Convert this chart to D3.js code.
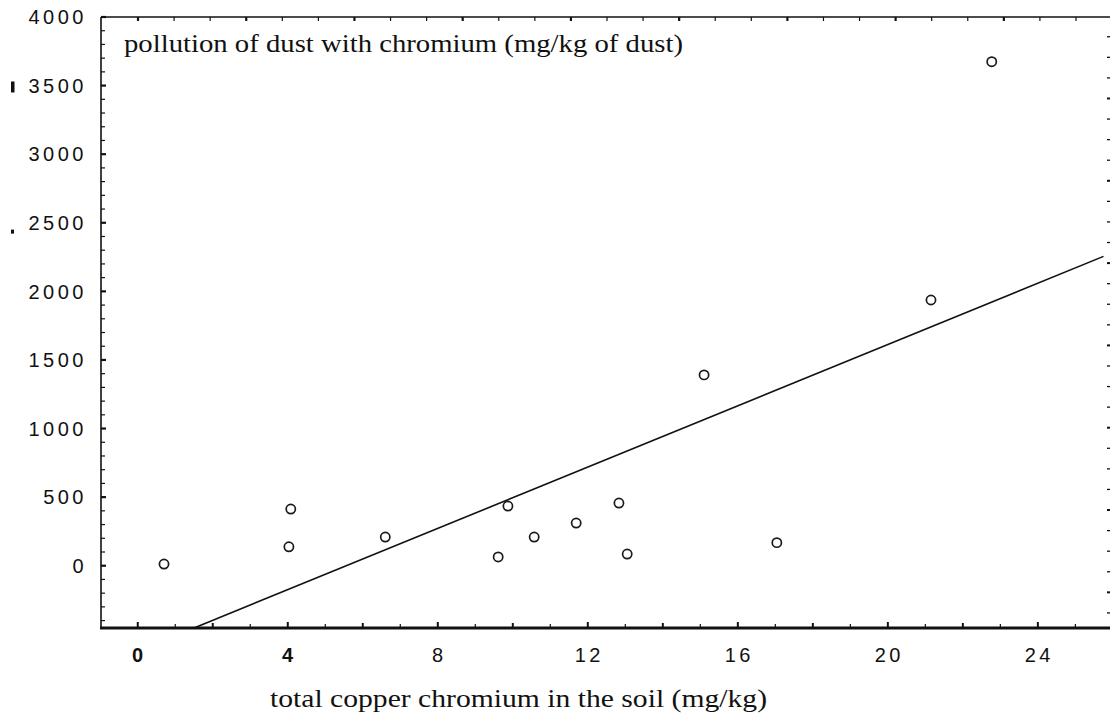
<!DOCTYPE html>
<html lang="en">
<head>
  <meta charset="UTF-8" />
  <title>Chromium in dust vs soil</title>
  <script src="https://d3js.org/d3.v7.min.js"></script>
  <style>
    body {
      margin: 0;
      padding: 0;
      background: #fff;
    }
    svg {
      display: block;
    }
    .tick-label {
      font-family: "Liberation Sans", Arial, sans-serif;
      font-size: 20px;
      letter-spacing: 3.5px;
      fill: #111;
    }
    .serif-label {
      font-family: "Liberation Serif", "Times New Roman", serif;
      fill: #111;
    }
  </style>
</head>
<body>
  <svg id="chart" width="1110" height="725"></svg>

  <script>
    // soil copper/chromium (mg/kg) vs dust chromium (mg/kg of dust)
    const soilX = [0.7, 4.03, 4.08, 6.6, 9.61, 9.87, 10.57, 11.69, 12.83, 13.05, 15.1, 17.04, 21.15, 22.77];
    const dustY = [12, 138, 413, 209, 64, 435, 209, 311, 457, 85, 1391, 168, 1937, 3674];

    // fitted line, two ends
    const fitX = [1.5, 25.75];
    const fitY = [-454, 2255];

    const xTickLabels = [0, 4, 8, 12, 16, 20, 24];
    const yTickLabels = [0, 500, 1000, 1500, 2000, 2500, 3000, 3500, 4000];

    const svg = d3.select("#chart");

    // plot frame in pixels
    const frameL = 101, frameR = 1108, frameT = 17, frameB = 628;

    const x = d3.scaleLinear().domain([-0.98, 25.87]).range([frameL, frameR]);
    const y = d3.scaleLinear().domain([-454, 4000]).range([frameB, frameT]);
    // the top border has its own evenly spaced ticks
    const xTop = d3.scaleLinear().domain([0, 26]).range([138, 1076]);

    const ink = "#111";

    // ---- frame ----
    svg.append("line")
      .attr("x1", frameL).attr("x2", 1110)
      .attr("y1", frameT).attr("y2", frameT)
      .attr("stroke", ink).attr("stroke-width", 1.6);

    svg.append("line")
      .attr("x1", frameL).attr("x2", frameL)
      .attr("y1", frameT).attr("y2", frameB)
      .attr("stroke", ink).attr("stroke-width", 1.6);

    svg.append("line")
      .attr("x1", frameL - 1).attr("x2", 1110)
      .attr("y1", frameB).attr("y2", frameB)
      .attr("stroke", ink).attr("stroke-width", 3);

    // ---- left axis ticks (every 100, bigger at 500) ----
    const yMinor = d3.range(-400, 4001, 100);
    svg.append("g").selectAll("line")
      .data(yMinor)
      .enter().append("line")
      .attr("x1", frameL)
      .attr("x2", d => d % 500 === 0 ? frameL + 5 : frameL + 4)
      .attr("y1", d => y(d)).attr("y2", d => y(d))
      .attr("stroke", ink)
      .attr("stroke-width", d => d % 500 === 0 ? 2.2 : 1.2);

    svg.append("g").selectAll("text")
      .data(yTickLabels)
      .enter().append("text")
      .attr("class", "tick-label")
      .attr("x", 87)
      .attr("y", d => y(d))
      .attr("dy", "0.36em")
      .attr("text-anchor", "end")
      .text(d => d);

    // ---- right side: dotted axis ----
    const rightTicks = d3.range(3856, -454, -150);
    svg.append("g").selectAll("line")
      .data(rightTicks)
      .enter().append("line")
      .attr("x1", frameR - 1).attr("x2", frameR + 2)
      .attr("y1", d => y(d)).attr("y2", d => y(d))
      .attr("stroke", ink)
      .attr("stroke-width", (d, i) => i % 4 === 3 ? 2 : 1.3);

    // ---- bottom axis ticks (every 1, bigger at even numbers) ----
    const xMinor = d3.range(0, 26, 1);
    svg.append("g").selectAll("line")
      .data(xMinor)
      .enter().append("line")
      .attr("x1", d => x(d)).attr("x2", d => x(d))
      .attr("y1", frameB)
      .attr("y2", d => d % 4 === 0 ? frameB - 6 : (d % 2 === 0 ? frameB - 5 : frameB - 4))
      .attr("stroke", ink)
      .attr("stroke-width", d => d % 2 === 0 ? 2 : 1.2);

    svg.append("g").selectAll("text")
      .data(xTickLabels)
      .enter().append("text")
      .attr("class", "tick-label")
      .attr("x", d => x(d) + 1.5)
      .attr("y", 662)
      .attr("text-anchor", "middle")
      .style("font-weight", d => d < 8 ? "bold" : "normal")
      .text(d => d);

    // ---- top border ticks ----
    svg.append("g").selectAll("line")
      .data(d3.range(0, 27, 1))
      .enter().append("line")
      .attr("x1", d => xTop(d)).attr("x2", d => xTop(d))
      .attr("y1", frameT).attr("y2", frameT + 4)
      .attr("stroke", ink)
      .attr("stroke-width", d => d % 3 === 0 ? 2.2 : 1.2);

    // ---- small stray marks left of the y labels ----
    svg.append("rect")
      .attr("x", 11).attr("y", y(3530)).attr("width", 3.5).attr("height", 11)
      .attr("fill", ink);
    svg.append("rect")
      .attr("x", 11).attr("y", y(2450)).attr("width", 3).attr("height", 4)
      .attr("fill", ink);

    // ---- fitted line ----
    const fitLine = d3.line()
      .x(d => x(d[0]))
      .y(d => y(d[1]));

    svg.append("path")
      .datum(d3.zip(fitX, fitY))
      .attr("d", fitLine)
      .attr("fill", "none")
      .attr("stroke", ink)
      .attr("stroke-width", 1.6);

    // ---- points ----
    svg.append("g").selectAll("circle")
      .data(d3.zip(soilX, dustY))
      .enter().append("circle")
      .attr("cx", d => x(d[0]))
      .attr("cy", d => y(d[1]))
      .attr("r", 4.6)
      .attr("fill", "none")
      .attr("stroke", "#1a1a1a")
      .attr("stroke-width", 1.7);

    // ---- titles ----
    svg.append("text")
      .attr("class", "serif-label")
      .attr("x", 124)
      .attr("y", 52)
      .style("font-size", "26px")
      .attr("textLength", 559)
      .attr("lengthAdjust", "spacingAndGlyphs")
      .text("pollution of dust with chromium (mg/kg of dust)");

    svg.append("text")
      .attr("class", "serif-label")
      .attr("x", 270)
      .attr("y", 707)
      .style("font-size", "26px")
      .attr("textLength", 497)
      .attr("lengthAdjust", "spacingAndGlyphs")
      .text("total copper chromium in the soil (mg/kg)");
  </script>
</body>
</html>
